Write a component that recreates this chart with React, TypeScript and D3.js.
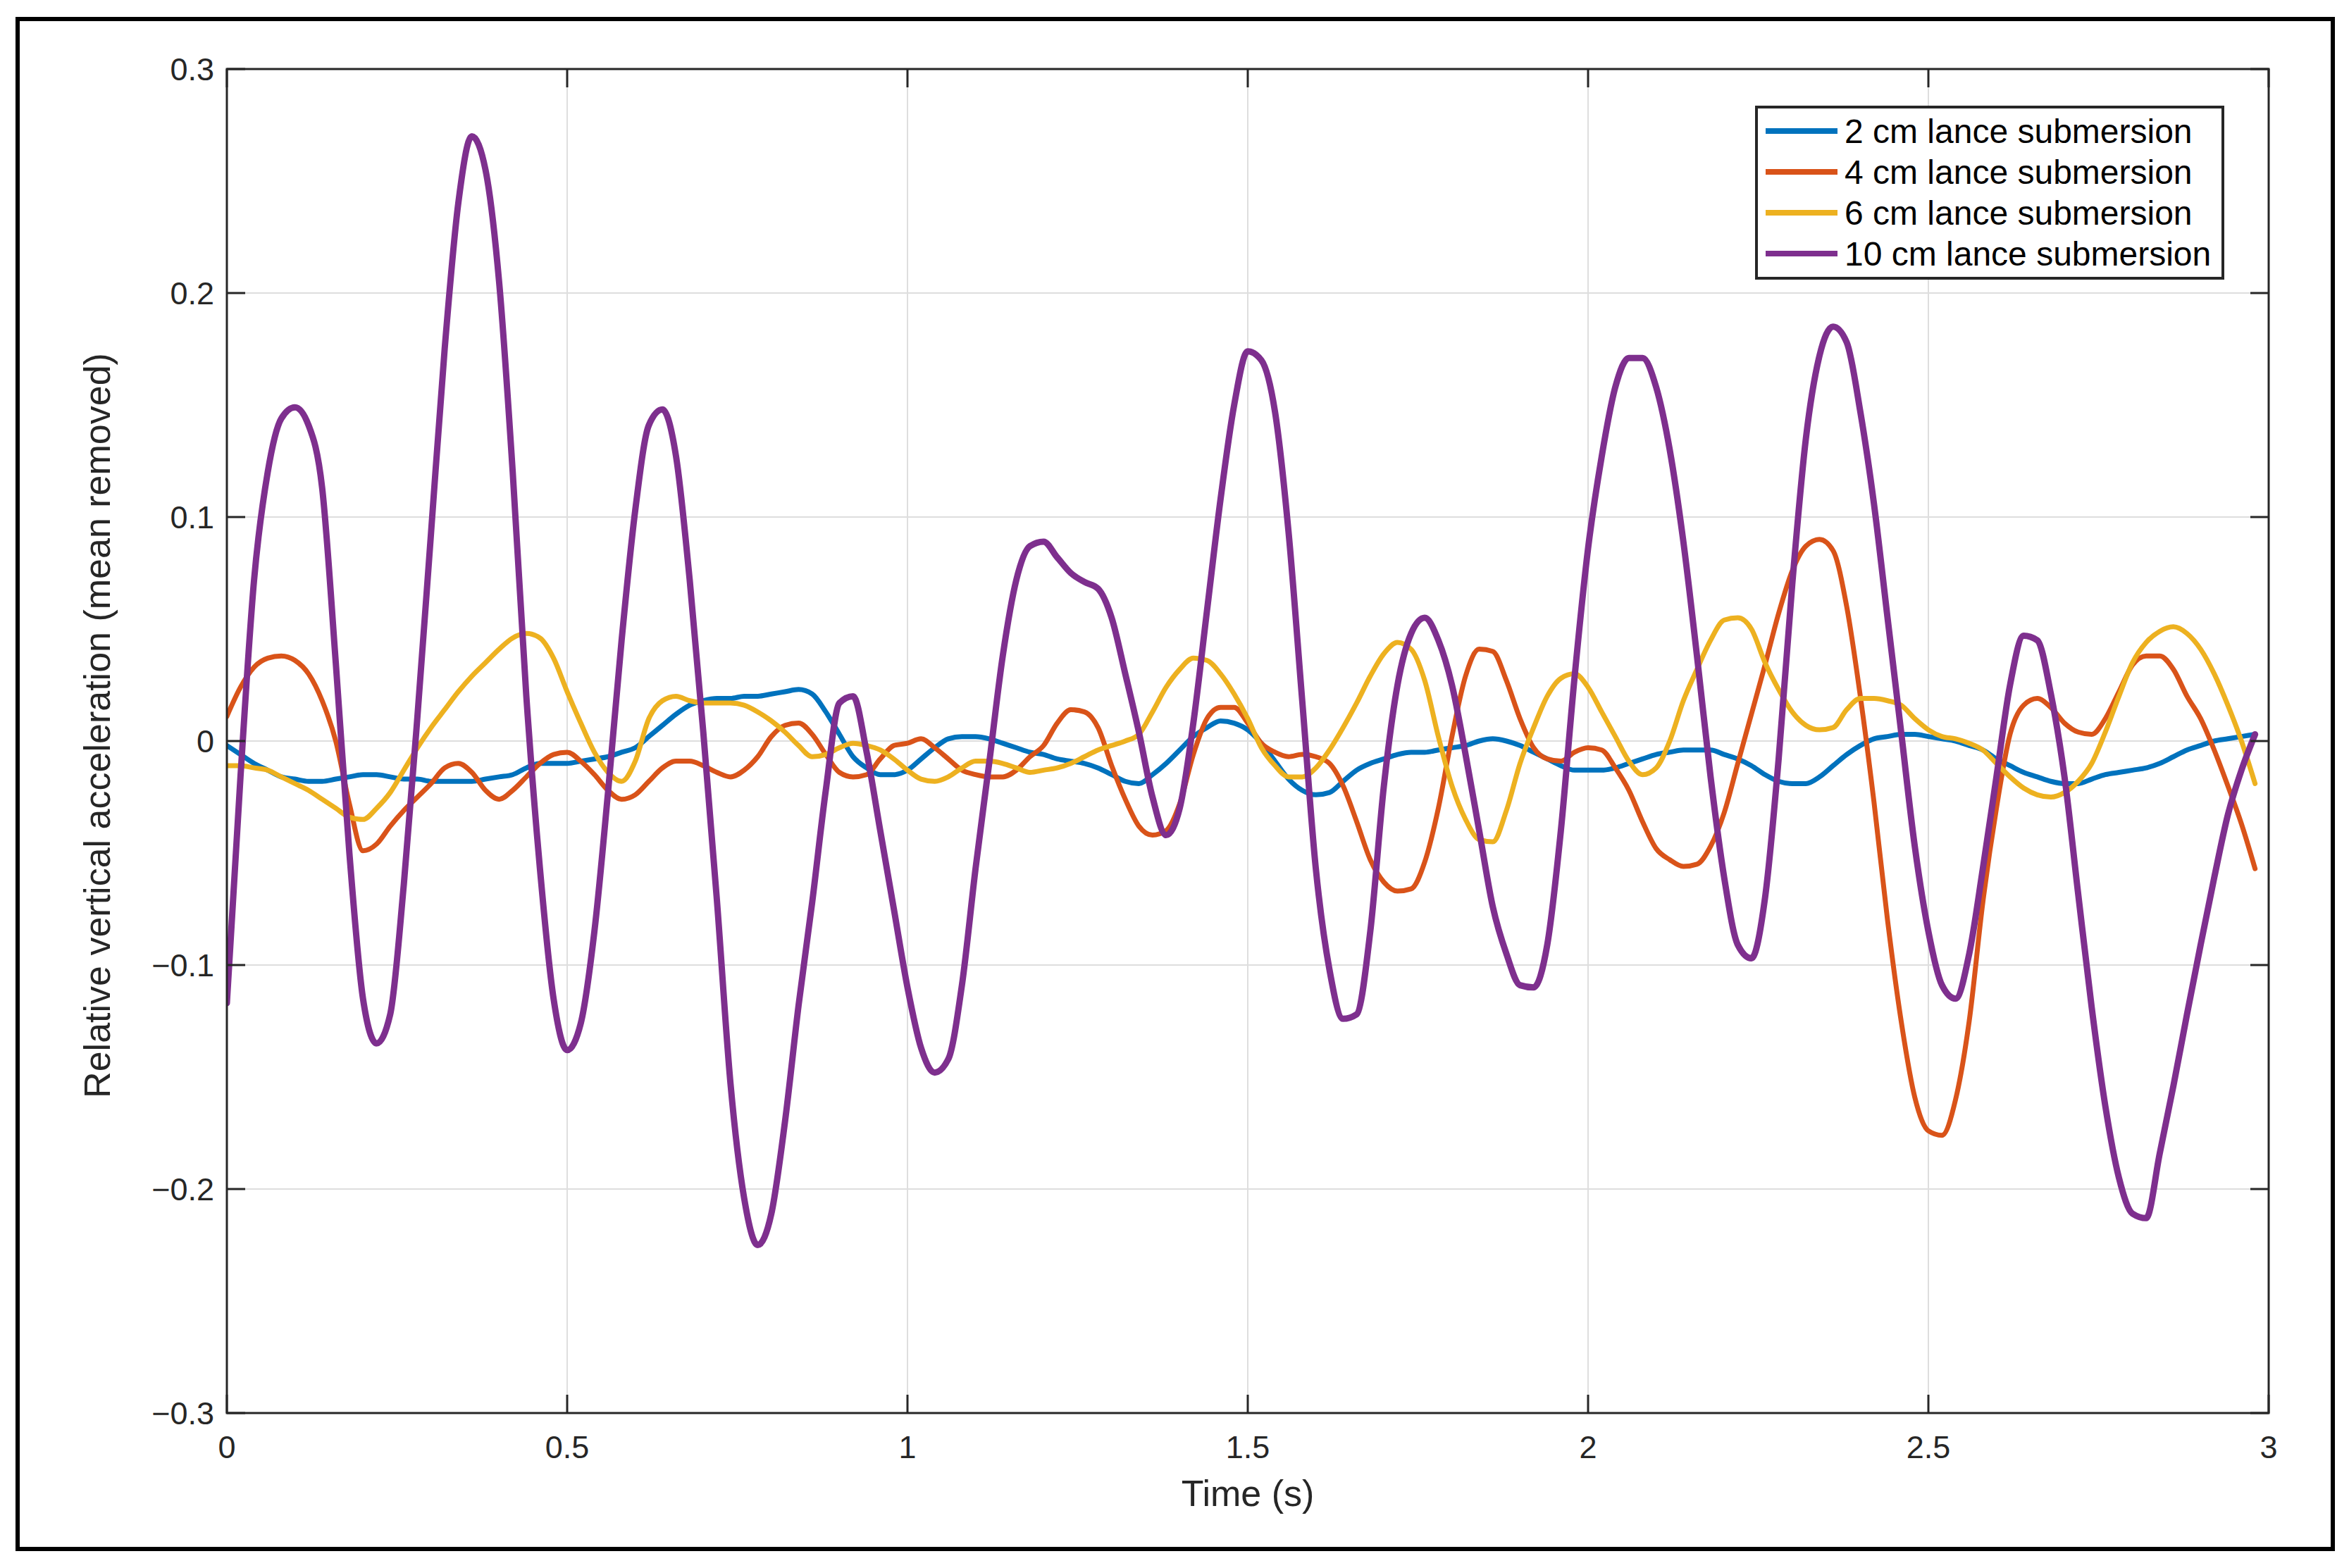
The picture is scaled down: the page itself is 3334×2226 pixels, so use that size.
import * as d3 from "d3";

const W = 3334;
const H = 2226;
const plot = { left: 322, right: 3220, top: 98, bottom: 2006 };

const xTicks = [0, 0.5, 1, 1.5, 2, 2.5, 3];
const xTickLabels = ["0", "0.5", "1", "1.5", "2", "2.5", "3"];
const yTicks = [-0.3, -0.2, -0.1, 0, 0.1, 0.2, 0.3];
const yTickLabels = ["\u22120.3", "\u22120.2", "\u22120.1", "0", "0.1", "0.2", "0.3"];

// samples every 0.02 s, starting at t = 0
const sampleStep = 0.02;

const cm2 = [
  -0.002, -0.006, -0.01, -0.013, -0.016, -0.017, -0.018, -0.018, -0.017, -0.016,
  -0.015, -0.015, -0.016, -0.017, -0.017, -0.018, -0.018, -0.018, -0.018, -0.017,
  -0.016, -0.015, -0.012, -0.01, -0.01, -0.01, -0.009, -0.008, -0.007, -0.005,
  -0.003, 0.002, 0.007, 0.012, 0.016, 0.018, 0.019, 0.019, 0.02, 0.02,
  0.021, 0.022, 0.023, 0.021, 0.013, 0.003, -0.007, -0.012, -0.015, -0.015,
  -0.013, -0.008, -0.003, 0.001, 0.002, 0.002, 0.001, -0.001, -0.003, -0.005,
  -0.006, -0.008, -0.009, -0.01, -0.012, -0.015, -0.018, -0.019, -0.015, -0.01,
  -0.004, 0.002, 0.006, 0.009, 0.008, 0.005, -0.001, -0.009, -0.017, -0.022,
  -0.024, -0.023, -0.018, -0.013, -0.01, -0.008, -0.006, -0.005, -0.005, -0.004,
  -0.003, -0.002, 0.0, 0.001, 0.0, -0.002, -0.005, -0.008, -0.011, -0.013,
  -0.013, -0.013, -0.012, -0.01, -0.008, -0.006, -0.005, -0.004, -0.004, -0.004,
  -0.006, -0.008, -0.011, -0.015, -0.018, -0.019, -0.019, -0.016, -0.011, -0.006,
  -0.002, 0.001, 0.002, 0.003, 0.003, 0.002, 0.001, 0.0, -0.002, -0.004,
  -0.008, -0.011, -0.014, -0.016, -0.018, -0.019, -0.019, -0.017, -0.015, -0.014,
  -0.013, -0.012, -0.01, -0.007, -0.004, -0.002, 0.0, 0.001, 0.002, 0.003,
];

const cm4 = [
  0.011, 0.024, 0.033, 0.037, 0.038, 0.036, 0.03, 0.018, 0.0, -0.028,
  -0.049, -0.046, -0.038, -0.031, -0.025, -0.019, -0.012, -0.01, -0.014, -0.022,
  -0.026, -0.022, -0.016, -0.01, -0.006, -0.005, -0.009, -0.015, -0.022, -0.026,
  -0.024, -0.018, -0.012, -0.009, -0.009, -0.011, -0.014, -0.016, -0.013, -0.007,
  0.002, 0.007, 0.008, 0.003, -0.006, -0.014, -0.016, -0.015, -0.008, -0.002,
  -0.001, 0.001, -0.003, -0.008, -0.013, -0.015, -0.016, -0.016, -0.013, -0.007,
  -0.002, 0.008, 0.014, 0.013, 0.006, -0.011, -0.026, -0.038, -0.042, -0.04,
  -0.028, -0.006, 0.01, 0.015, 0.015, 0.008, -0.001, -0.005, -0.007, -0.006,
  -0.007, -0.01, -0.02, -0.036, -0.053, -0.063, -0.067, -0.066, -0.054, -0.03,
  0.002, 0.029, 0.041, 0.04, 0.027, 0.01, -0.003, -0.008, -0.009, -0.005,
  -0.003, -0.004, -0.012, -0.022, -0.036, -0.048, -0.053, -0.056, -0.055, -0.047,
  -0.032, -0.01, 0.012, 0.034, 0.057, 0.076, 0.087, 0.09, 0.085, 0.06,
  0.02, -0.027, -0.08, -0.125, -0.159, -0.174, -0.176, -0.16, -0.125, -0.072,
  -0.03, 0.003, 0.016, 0.019, 0.015, 0.008, 0.004, 0.003, 0.01, 0.022,
  0.034, 0.038, 0.038, 0.032, 0.02, 0.01, -0.004, -0.02, -0.037, -0.057,
];

const cm6 = [
  -0.011, -0.011, -0.012, -0.013, -0.016, -0.019, -0.022, -0.026, -0.03, -0.034,
  -0.035, -0.03, -0.023, -0.013, -0.003, 0.006, 0.014, 0.022, 0.029, 0.035,
  0.041, 0.046, 0.048, 0.046, 0.037, 0.022, 0.008, -0.005, -0.014, -0.018,
  -0.009, 0.01, 0.018, 0.02, 0.018, 0.017, 0.017, 0.017, 0.016, 0.013,
  0.009, 0.004, -0.002, -0.007, -0.006, -0.003, -0.001, -0.002, -0.004, -0.008,
  -0.013, -0.017, -0.018, -0.016, -0.012, -0.009, -0.009, -0.01, -0.012, -0.014,
  -0.013, -0.012, -0.01, -0.007, -0.004, -0.002, 0.0, 0.003, 0.013, 0.024,
  0.032, 0.037, 0.036, 0.03, 0.021, 0.01, -0.003, -0.011, -0.016, -0.016,
  -0.012, -0.004, 0.006, 0.017, 0.029, 0.039, 0.044, 0.041, 0.027, 0.002,
  -0.02, -0.035, -0.044, -0.045, -0.031, -0.01, 0.006, 0.02, 0.028, 0.03,
  0.024, 0.013, 0.002, -0.009, -0.015, -0.012, 0.0, 0.018, 0.032, 0.045,
  0.054, 0.055, 0.05, 0.035, 0.023, 0.013, 0.007, 0.005, 0.006, 0.014,
  0.019, 0.019, 0.018, 0.016, 0.01, 0.005, 0.002, 0.001, -0.001, -0.004,
  -0.01, -0.016, -0.021, -0.024, -0.025, -0.023, -0.018, -0.01, 0.004, 0.02,
  0.035, 0.044, 0.049, 0.051, 0.048, 0.041, 0.03, 0.016, 0.0, -0.019,
];

const cm10 = [
  -0.117, -0.016, 0.072, 0.12, 0.144, 0.149, 0.141, 0.113, 0.035, -0.05,
  -0.115, -0.135, -0.122, -0.064, 0.011, 0.093, 0.175, 0.24, 0.27, 0.255,
  0.205, 0.12, 0.02, -0.057, -0.115, -0.138, -0.126, -0.085, -0.023, 0.045,
  0.103, 0.141, 0.148, 0.127, 0.072, 0.004, -0.071, -0.153, -0.204, -0.225,
  -0.211, -0.17, -0.118, -0.072, -0.022, 0.017, 0.02, -0.005, -0.04, -0.075,
  -0.11, -0.137, -0.148, -0.142, -0.109, -0.057, -0.01, 0.038, 0.072, 0.087,
  0.089, 0.082, 0.075, 0.071, 0.068, 0.055, 0.03, 0.004, -0.025, -0.042,
  -0.03, 0.008, 0.058, 0.108, 0.15, 0.174, 0.17, 0.147, 0.093, 0.018,
  -0.057, -0.102, -0.124, -0.122, -0.085, -0.02, 0.025, 0.048, 0.055, 0.045,
  0.025, -0.006, -0.04, -0.074, -0.095, -0.109, -0.11, -0.091, -0.04, 0.028,
  0.086, 0.127, 0.158, 0.171, 0.171, 0.158, 0.13, 0.089, 0.038, -0.016,
  -0.061, -0.091, -0.097, -0.07, -0.008, 0.07, 0.135, 0.172, 0.185, 0.178,
  0.147, 0.106, 0.055, 0.004, -0.047, -0.085, -0.109, -0.115, -0.095, -0.057,
  -0.016, 0.025, 0.047, 0.045, 0.021, -0.016, -0.068, -0.119, -0.163, -0.195,
  -0.211, -0.213, -0.184, -0.154, -0.122, -0.091, -0.061, -0.033, -0.013, 0.003,
];

const seriesNames = [
  "2 cm lance submersion",
  "4 cm lance submersion",
  "6 cm lance submersion",
  "10 cm lance submersion",
];
const seriesValues = [cm2, cm4, cm6, cm10];
const seriesColors = ["#0072BD", "#D95319", "#EDB120", "#7E2F8E"];
const seriesWidths = [7, 7, 7, 9];

const font = "'Liberation Sans', Arial, Helvetica, sans-serif";
const axisColor = "#262626";
const gridColor = "#dedede";

export default function App() {
  const x = d3.scaleLinear([0, 3], [plot.left, plot.right]);
  const y = d3.scaleLinear([-0.3, 0.3], [plot.bottom, plot.top]);
  const line = d3
    .line<number>()
    .x((_, i) => x(i * sampleStep))
    .y((d) => y(d))
    .curve(d3.curveMonotoneX);

  const tick = 26;
  const legend = { x: 2493, y: 152, w: 662, h: 243, row: 58 };

  return (
    <svg
      width={W}
      height={H}
      style={{ position: "absolute", left: 0, top: 0, background: "white" }}
      fontFamily={font}
    >
      <rect x={0} y={0} width={W} height={H} fill="white" />
      <rect x={25} y={27} width={3286} height={2172} fill="none" stroke="black" strokeWidth={6} />

      <defs>
        <clipPath id="plotClip">
          <rect x={plot.left} y={plot.top} width={plot.right - plot.left} height={plot.bottom - plot.top} />
        </clipPath>
      </defs>

      {/* grid */}
      <g stroke={gridColor} strokeWidth={2}>
        {xTicks.slice(1, -1).map((t) => (
          <line key={`gx${t}`} x1={x(t)} x2={x(t)} y1={plot.top} y2={plot.bottom} />
        ))}
        {yTicks.slice(1, -1).map((t) => (
          <line key={`gy${t}`} x1={plot.left} x2={plot.right} y1={y(t)} y2={y(t)} />
        ))}
      </g>

      {/* series */}
      <g clipPath="url(#plotClip)" fill="none" strokeLinejoin="round" strokeLinecap="round">
        {seriesValues.map((vals, i) => (
          <path key={i} d={line(vals) || undefined} stroke={seriesColors[i]} strokeWidth={seriesWidths[i]} />
        ))}
      </g>

      {/* axes box and ticks */}
      <rect
        x={plot.left}
        y={plot.top}
        width={plot.right - plot.left}
        height={plot.bottom - plot.top}
        fill="none"
        stroke={axisColor}
        strokeWidth={3}
      />
      <g stroke={axisColor} strokeWidth={3}>
        {xTicks.map((t) => (
          <g key={`tx${t}`}>
            <line x1={x(t)} x2={x(t)} y1={plot.bottom} y2={plot.bottom - tick} />
            <line x1={x(t)} x2={x(t)} y1={plot.top} y2={plot.top + tick} />
          </g>
        ))}
        {yTicks.map((t) => (
          <g key={`ty${t}`}>
            <line x1={plot.left} x2={plot.left + tick} y1={y(t)} y2={y(t)} />
            <line x1={plot.right} x2={plot.right - tick} y1={y(t)} y2={y(t)} />
          </g>
        ))}
      </g>

      {/* tick labels */}
      <g fill={axisColor} fontSize={45}>
        {xTicks.map((t, i) => (
          <text key={`lx${t}`} x={x(t)} y={plot.bottom + 64} textAnchor="middle">
            {xTickLabels[i]}
          </text>
        ))}
        {yTicks.map((t, i) => (
          <text key={`ly${t}`} x={plot.left - 18} y={y(t) + 16} textAnchor="end">
            {yTickLabels[i]}
          </text>
        ))}
      </g>

      {/* axis labels */}
      <text x={(plot.left + plot.right) / 2} y={2138} textAnchor="middle" fontSize={52} fill={axisColor}>
        Time (s)
      </text>
      <text
        transform={`translate(156,${(plot.top + plot.bottom) / 2 - 22}) rotate(-90)`}
        textAnchor="middle"
        fontSize={52}
        fill={axisColor}
      >
        Relative vertical acceleration (mean removed)
      </text>

      {/* legend */}
      <g>
        <rect x={legend.x} y={legend.y} width={legend.w} height={legend.h} fill="white" stroke={axisColor} strokeWidth={4} />
        {seriesNames.map((name, i) => {
          const ry = legend.y + 34 + i * legend.row;
          return (
            <g key={name}>
              <line x1={legend.x + 13} x2={legend.x + 115} y1={ry} y2={ry} stroke={seriesColors[i]} strokeWidth={8} />
              <text x={legend.x + 125} y={ry + 17} fontSize={48} fill="black">
                {name}
              </text>
            </g>
          );
        })}
      </g>
    </svg>
  );
}
